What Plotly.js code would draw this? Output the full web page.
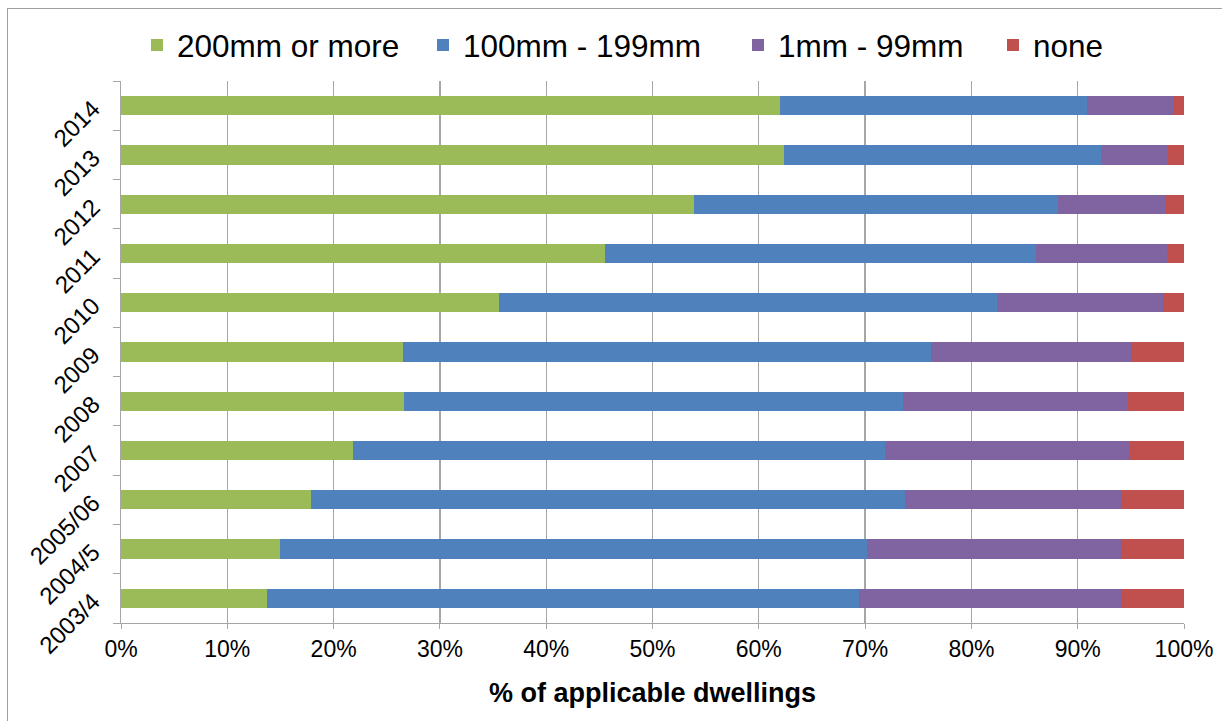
<!DOCTYPE html>
<html>
<head>
<meta charset="utf-8">
<script src="https://cdn.plot.ly/plotly-3.0.1.min.js"></script>
<style>
html,body{margin:0;padding:0;background:#fff;overflow:hidden;}
#frame{position:absolute;left:7px;top:8px;width:1240px;height:740px;border:1.5px solid #a0a0a0;box-sizing:border-box;pointer-events:none;z-index:5;}
#chart{position:absolute;left:0;top:0;width:1222px;height:721px;}
</style>
</head>
<body>
<div id="chart"></div>
<div id="frame"></div>
<script>
const categories = ['2003/4','2004/5','2005/06','2007','2008','2009','2010','2011','2012','2013','2014'];
const seriesNames = ['200mm or more','100mm - 199mm','1mm - 99mm','none'];
const mm200plus = [13.7, 15.0, 17.9, 21.8, 26.6, 26.5, 35.6, 45.5, 53.9, 62.4, 62.0];
const mm100to199 = [55.7, 55.2, 55.9, 50.1, 47.0, 49.7, 46.8, 40.6, 34.2, 29.8, 28.9];
const mm1to99 = [24.7, 23.9, 20.3, 23.0, 21.1, 18.8, 15.6, 12.3, 10.2, 6.3, 8.1];
const none = [5.9, 5.9, 5.9, 5.1, 5.3, 5.0, 2.0, 1.6, 1.7, 1.5, 1.0];
const colors = ['#9BBB59','#4F81BD','#8064A2','#C0504D'];
const xTickVals = [0,10,20,30,40,50,60,70,80,90,100];

const W = 1222, H = 721;
const legendIds = ['legend','legend2','legend3','legend4'];
const legendTextStart = [177, 463, 778, 1033];

const values = [mm200plus, mm100to199, mm1to99, none];
const traces = values.map((v, i) => ({
  type: 'bar',
  orientation: 'h',
  name: seriesNames[i],
  y: categories,
  x: v,
  legend: legendIds[i],
  marker: {color: colors[i], line: {width: 0}},
  hoverinfo: 'x+y+name'
}));

const font = 'Arial, "Liberation Sans", sans-serif';
const layout = {
  width: W, height: H,
  barmode: 'stack',
  bargap: 0.61,
  margin: {l: 121, r: 38, t: 81, b: 98},
  paper_bgcolor: '#ffffff',
  plot_bgcolor: '#ffffff',
  font: {family: font, color: '#000'},
  showlegend: true,
  xaxis: {
    range: [0, 100],
    tickvals: xTickVals,
    ticktext: xTickVals.map(v => v + '%'),
    showgrid: true,
    gridcolor: '#a6a6a6',
    gridwidth: 1.3,
    zeroline: false,
    showline: true,
    linecolor: '#a6a6a6',
    linewidth: 1.3,
    ticks: 'outside',
    ticklen: 5,
    tickcolor: '#a6a6a6',
    tickfont: {size: 23, family: font, color: '#000'},
    title: {text: '<b>% of applicable dwellings</b>', font: {size: 27, family: font, color: '#000'}, standoff: 22},
    fixedrange: true
  },
  yaxis: {
    type: 'category',
    categoryorder: 'array',
    categoryarray: categories,
    tickangle: -45,
    tickson: 'boundaries',
    ticks: 'outside',
    ticklen: 7,
    tickcolor: '#a6a6a6',
    ticklabelstandoff: 22,
    showline: true,
    linecolor: '#a6a6a6',
    linewidth: 1.3,
    showgrid: false,
    tickfont: {size: 24, family: font, color: '#000'},
    fixedrange: true
  }
};
legendIds.forEach((id, i) => {
  layout[id] = {
    orientation: 'h',
    xref: 'container', yref: 'container',
    x: (legendTextStart[i] - 40) / W, xanchor: 'left',
    y: 1 - 45 / H, yanchor: 'middle',
    font: {size: 31.5, family: font, color: '#000'},
    bgcolor: 'rgba(0,0,0,0)',
    borderwidth: 0
  };
});

Plotly.newPlot('chart', traces, layout, {displayModeBar: false, staticPlot: true});
</script>
</body>
</html>
